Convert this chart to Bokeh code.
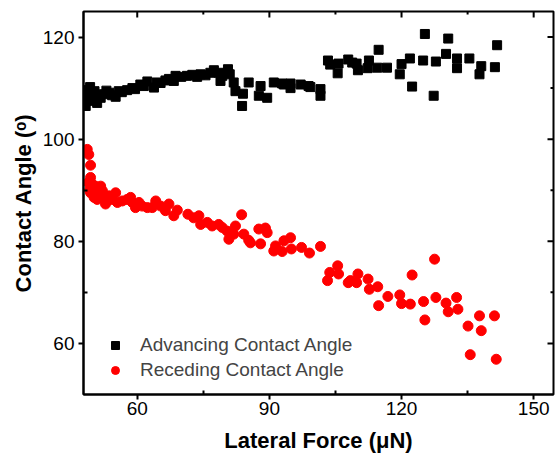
from bokeh.plotting import figure
from bokeh.models import FixedTicker, Range1d, Legend, LegendItem, ColumnDataSource
from bokeh.embed import file_html
from bokeh.resources import INLINE

# Advancing contact angle (black squares)
adv_force = [48.3, 48.6, 48.9, 49.3, 49.0, 49.8, 50.3, 50.9, 51.3, 51.7, 52.4, 53.0, 53.6, 54.3,
             55.1, 55.8, 56.5, 57.7, 58.9, 59.5, 60.7, 61.5, 62.3, 63.8, 64.5, 65.3, 66.4, 67.2,
             68.3, 68.7, 70.0, 71.3, 72.5, 73.6, 74.4, 75.5, 76.6, 77.4, 78.5, 78.9, 79.3, 80.6,
             81.0, 81.9, 82.3, 83.8, 84.0, 85.3, 87.6, 88.0, 89.5, 91.0, 92.9, 93.3, 94.8, 94.8,
             97.1, 98.9, 99.3, 101.6, 101.6, 103.3, 103.8, 105.7, 105.5, 107.9, 108.8, 109.8,
             110.1, 112.6, 112.3, 114.5, 114.8, 116.7, 119.6, 120.0, 121.9, 122.4, 124.9, 125.3,
             127.8, 127.3, 130.1, 130.6, 132.6, 132.6, 135.4, 138.1, 137.7, 141.2, 141.7]
adv_angle = [106.5, 108.0, 109.6, 110.2, 107.5, 108.8, 109.4, 107.1, 108.6, 108.1, 108.8, 109.5,
             109.1, 108.6, 108.3, 109.4, 109.2, 109.6, 110.0, 109.8, 110.7, 110.4, 111.3, 110.1,
             111.1, 111.0, 111.5, 111.8, 111.4, 112.4, 112.2, 112.4, 112.6, 112.2, 112.7, 112.5,
             113.0, 113.5, 113.0, 111.4, 112.4, 113.7, 112.7, 111.1, 109.4, 106.5, 108.9, 111.1,
             108.5, 110.4, 108.1, 111.1, 110.9, 110.7, 110.9, 110.0, 110.7, 110.4, 110.2, 109.8,
             108.5, 115.4, 114.6, 114.8, 112.9, 115.6, 115.0, 114.8, 113.5, 115.4, 113.9, 114.0,
             117.5, 114.0, 112.7, 114.7, 115.8, 110.3, 115.4, 120.6, 115.2, 108.5, 116.7, 119.7,
             115.8, 113.9, 115.8, 114.3, 112.7, 114.1, 118.4]

# Receding contact angle (red circles)
rec_force = [48.65, 49.0, 49.4, 49.4, 49.8, 50.5, 51.7, 52.1, 49.4, 50.2, 50.9, 52.4, 53.6, 55.1,
             54.3, 52.8, 55.5, 56.6, 57.7, 58.5, 58.9, 59.6, 60.4, 61.1, 62.3, 63.4, 64.2, 65.3,
             66.4, 67.2, 68.3, 69.1, 49.2, 48.9, 50.0, 51.0,
             71.5, 72.8, 74.0, 74.4, 75.9, 77.0, 78.5, 79.3, 80.4, 80.8, 81.9, 82.3, 83.7, 84.2,
             85.3, 85.7, 87.6, 89.1, 89.5, 88.0, 91.0, 91.4, 93.3, 92.9, 94.8, 95.0, 97.3, 99.1,
             101.6, 103.7, 103.2, 105.5, 105.7, 107.9, 108.4, 109.8, 110.1, 112.4, 112.7, 114.6,
             114.8, 116.9, 119.6, 120.0, 122.0, 122.4, 125.0, 125.3, 127.5, 127.8, 130.1, 130.6,
             132.5, 132.8, 135.1, 137.7, 138.1, 141.1, 135.6, 141.5]
rec_angle = [98.0, 97.0, 94.9, 92.5, 91.2, 90.8, 90.8, 89.9, 89.5, 88.6, 88.2, 88.6, 88.9, 89.5,
             88.2, 87.3, 87.6, 87.9, 88.2, 88.6, 87.6, 86.6, 87.6, 86.9, 86.6, 86.6, 87.9, 86.9,
             86.0, 87.3, 85.0, 86.1, 90.0, 91.5, 89.8, 89.5,
             85.3, 84.6, 85.0, 83.3, 83.7, 83.0, 83.3, 82.7, 82.0, 80.4, 81.4, 83.0, 85.2, 81.4,
             80.2, 79.7, 82.4, 82.6, 81.7, 79.5, 78.1, 79.1, 80.1, 78.0, 80.7, 78.5, 78.8, 77.7,
             79.0, 73.9, 72.3, 75.2, 73.6, 71.9, 72.3, 71.9, 73.6, 72.6, 70.6, 71.1, 67.4, 69.2,
             69.5, 67.8, 67.7, 73.4, 68.2, 64.6, 76.5, 69.0, 67.9, 66.2, 69.0, 66.7, 63.4, 65.4,
             62.5, 65.4, 57.8, 56.9]

x_major = [60, 90, 120, 150]
x_minor = [75, 105, 135]
y_major = [60, 80, 100, 120]
y_minor = [70, 90, 110]
x_lim = (47.8, 154.5)
y_lim = (50, 125)

FONT = "Liberation Sans"
FW, FH = 470, 383

p = figure(frame_width=FW, frame_height=FH,
           x_range=Range1d(*x_lim), y_range=Range1d(*y_lim),
           output_backend="svg", toolbar_location=None,
           min_border_left=83, min_border_top=11, min_border_right=2, min_border_bottom=58,
           x_axis_label="Lateral Force (\u03bcN)", y_axis_label="Contact Angle (\u1d52)")
p.outline_line_color = "black"
p.outline_line_width = 2
p.xgrid.visible = False
p.ygrid.visible = False
p.background_fill_color = "white"
p.border_fill_color = "white"

xt = FixedTicker(ticks=x_major, minor_ticks=x_minor)
yt = FixedTicker(ticks=y_major, minor_ticks=y_minor)

def style_main(ax, ticker):
    ax.ticker = ticker
    ax.axis_line_width = 2
    ax.major_tick_line_width = 2
    ax.minor_tick_line_width = 2
    ax.major_tick_out = 5
    ax.major_tick_in = 0
    ax.minor_tick_in = 4
    ax.minor_tick_out = 0
    ax.major_label_text_font = FONT
    ax.major_label_text_font_size = "19px"
    ax.major_label_text_color = "black"
    ax.axis_label_text_font = FONT
    ax.axis_label_text_font_size = "22px"
    ax.axis_label_text_font_style = "bold"
    ax.axis_label_text_color = "black"

style_main(p.xaxis[0], xt)
style_main(p.yaxis[0], yt)
p.xaxis[0].major_label_standoff = 2
p.xaxis[0].axis_label_standoff = 10
p.yaxis[0].major_label_standoff = 4
p.yaxis[0].axis_label_standoff = 4

# mirrored inward ticks on top and right edges (lengths converted from pixels)
ypx = (y_lim[1] - y_lim[0]) / FH
xpx = (x_lim[1] - x_lim[0]) / FW
top = y_lim[1]
right = x_lim[1]
p.segment(x0=x_major, x1=x_major, y0=[top] * len(x_major), y1=[top - 6 * ypx] * len(x_major),
          line_width=2, line_color="black")
p.segment(x0=x_minor, x1=x_minor, y0=[top] * len(x_minor), y1=[top - 3 * ypx] * len(x_minor),
          line_width=2, line_color="black")
p.segment(x0=[right] * len(y_major), x1=[right - 6 * xpx] * len(y_major), y0=y_major, y1=y_major,
          line_width=2, line_color="black")
p.segment(x0=[right] * len(y_minor), x1=[right - 3 * xpx] * len(y_minor), y0=y_minor, y1=y_minor,
          line_width=2, line_color="black")

src_a = ColumnDataSource(dict(x=adv_force, y=adv_angle))
src_r = ColumnDataSource(dict(x=rec_force, y=rec_angle))
ra = p.scatter("x", "y", source=src_a, marker="square", size=9, color="black")
rr = p.scatter("x", "y", source=src_r, marker="circle", size=10, color="#ff0000")

legend = Legend(items=[LegendItem(label="Advancing Contact Angle", renderers=[ra]),
                       LegendItem(label="Receding Contact Angle", renderers=[rr])],
                location=(22, 13), padding=0, margin=0, spacing=3,
                glyph_width=20, glyph_height=20, label_standoff=15,
                label_text_font=FONT, label_text_font_size="19px",
                border_line_color=None, background_fill_alpha=0)
p.add_layout(legend, "center")

open("out.html", "w").write(file_html(p, INLINE))
